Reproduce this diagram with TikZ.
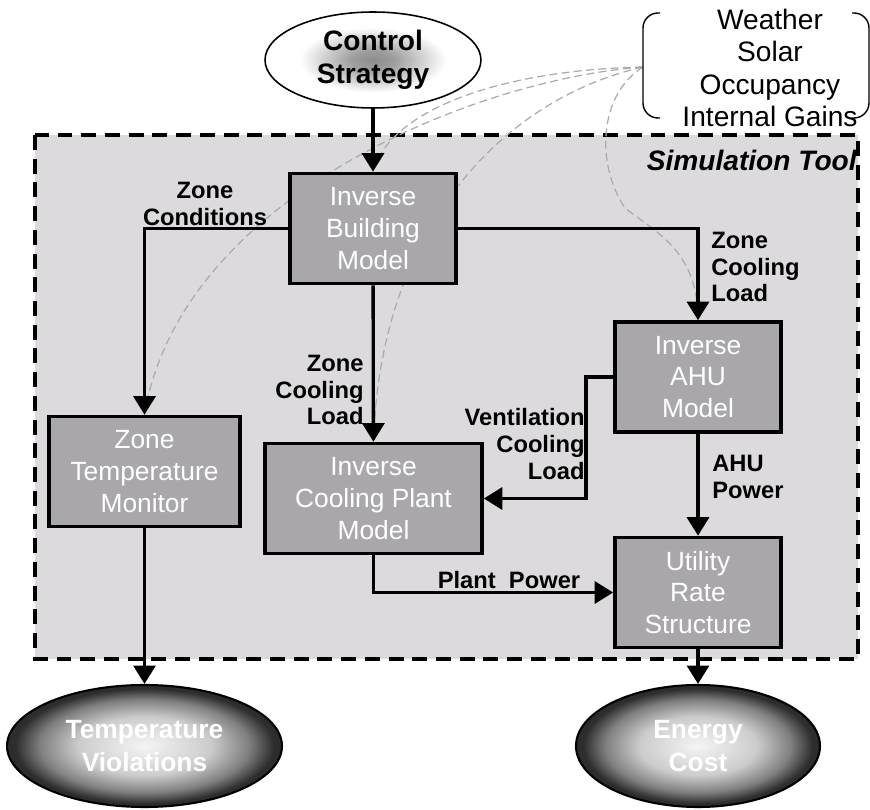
\documentclass[tikz,border=0pt]{standalone}
\usepackage{fontspec}
\setmainfont{Liberation Sans}
\usetikzlibrary{shapes.geometric,arrows.meta}

\definecolor{toolgray}{RGB}{220,218,221}
\definecolor{modelgray}{RGB}{169,167,171}
\definecolor{linkgray}{RGB}{170,170,176}

\pgfdeclareradialshading{ctrlshade}{\pgfpoint{0bp}{0bp}}{color(0bp)=(black!45); color(5bp)=(black!38); color(17bp)=(white); color(50bp)=(white)}
\pgfdeclareradialshading{resultshade}{\pgfpoint{0bp}{0bp}}{color(0bp)=(black!4); color(12bp)=(black!20); color(19bp)=(black!50); color(23.5bp)=(black!82); color(50bp)=(black)}

\pgfdeclarelayer{background}
\pgfsetlayers{background,main}

\tikzset{
  model/.style={draw, line width=2.1pt, fill=modelgray, text=white, align=center,
    minimum width=3.32cm, minimum height=2.2cm, inner sep=0pt,
    font=\fontsize{15}{18}\selectfont},
  result/.style={ellipse, draw, line width=1.2pt, shading=resultshade, text=white,
    align=center, inner sep=0pt, minimum height=2.44cm,
    font=\bfseries\fontsize{15}{19}\selectfont},
  flow/.style={line width=1.9pt, -{Triangle[length=10.5pt,width=12.5pt]}},
  tag/.style={font=\bfseries\fontsize{13.5}{15.3}\selectfont, inner sep=0pt},
  inputlink/.style={draw=linkgray, line width=0.7pt, dash pattern=on 4.5pt off 2.5pt},
}

\begin{document}
\begin{tikzpicture}[x=0.02cm,y=-0.02cm]
  \useasboundingbox (0,0) rectangle (870,810);
  % Inputs and control strategy
  \node[ellipse, draw, line width=0.9pt, shading=ctrlshade, inner sep=0pt,
    minimum width=4.32cm, minimum height=1.92cm, align=center,
    font=\bfseries\fontsize{16}{18.7}\selectfont] (ctrl) at (373,60) {Control\\Strategy};
  \draw[line width=0.8pt, rounded corners=0.3cm] (660,13) -- (643,13) -- (643,118) -- (660,118);
  \draw[line width=0.8pt, rounded corners=0.3cm] (852,13) -- (869,13) -- (869,118) -- (852,118);
  \node[align=center, inner sep=0pt, font=\fontsize{16}{18.3}\selectfont] (inputs) at (770,68)
    {Weather\\Solar\\Occupancy\\Internal Gains};
  \coordinate (src) at (643,67);
  % Simulation tool models
  \node[model] (bldg) at (373,228.5) {Inverse\\Building\\Model};
  \node[model, minimum width=3.82cm] (zonemon) at (144.5,471.5) {Zone\\Temperature\\Monitor};
  \node[model, minimum width=4.34cm] (plant) at (373.5,498.5) {Inverse\\Cooling Plant\\Model};
  \node[model] (ahu) at (698,377) {Inverse\\AHU\\Model};
  \node[model] (rate) at (698,592.5) {Utility\\Rate\\Structure};
  \node[anchor=east, inner sep=0pt, font=\bfseries\itshape\fontsize{16}{18}\selectfont] (simtool)
    at (857,160) {Simulation Tool};
  % Outputs
  \node[result, minimum width=5.5cm] (tviol) at (144.5,746) {Temperature\\Violations};
  \node[result, minimum width=4.88cm] (ecost) at (698,746) {Energy\\Cost};
  % Tool frame and input links
  \begin{pgfonlayer}{background}
    \draw[fill=toolgray, line width=2.3pt, dash pattern=on 8.5pt off 5pt] (35,135) rectangle (858,659);
    \draw[inputlink] (src) .. controls (470,80) and (180,200) .. (zonemon.north);
    \draw[inputlink] (src) .. controls (500,70) and (390,110) .. (bldg.north);
    \draw[inputlink] (src) .. controls (500,100) and (380,230) .. (plant.north);
    \draw[inputlink] (src) .. controls (598,95) and (596,165) .. (625,208)
      .. controls (655,232) and (698,250) .. (ahu.north);
  \end{pgfonlayer}
  % Flows
  \coordinate (ventbend) at (586,377);
  \draw[flow] (ctrl) -- (bldg);
  \draw[flow] (bldg.west) -| (zonemon.north);
  \draw[flow] (bldg.east) -| (ahu.north);
  \draw[flow] (bldg) -- (plant);
  \draw[flow] (ahu.west) -- (ventbend) |- (plant.east);
  \draw[flow] (ahu) -- (rate);
  \draw[flow] (plant.south) |- (rate.west);
  \draw[flow] (zonemon) -- (tviol);
  \draw[flow] (rate) -- (ecost);
  % Flow labels
  \node[tag, align=center] (zcond) at (205,204) {Zone\\Conditions};
  \node[tag, align=left, anchor=west] (zload) at (711,267) {Zone\\Cooling\\Load};
  \node[tag, align=right, anchor=east] (zload2) at (364,390) {Zone\\Cooling\\Load};
  \node[tag, align=right, anchor=east] (vload) at (585,444) {Ventilation\\Cooling\\Load};
  \node[tag, align=left, anchor=west] (ahupow) at (712,477) {AHU\\Power};
  \node[tag] (plantpow) at (509,580) {Plant~ Power};
\end{tikzpicture}
\end{document}
